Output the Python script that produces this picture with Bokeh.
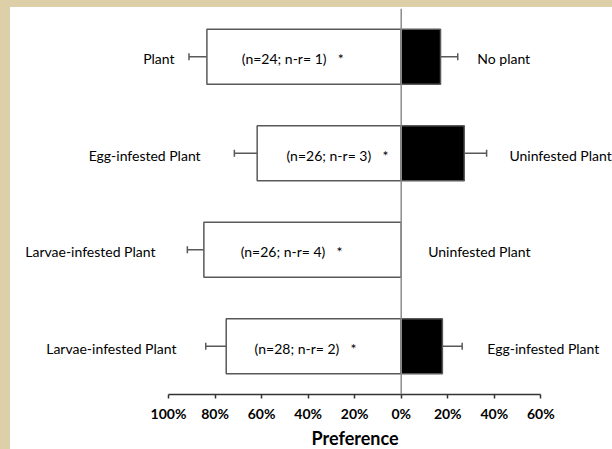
from bokeh.plotting import figure
from bokeh.models import Range1d, Span, FixedTicker, ColumnDataSource, Title
from bokeh.core.properties import value
from bokeh.embed import file_html
from bokeh.resources import INLINE

# ---- data ----
left_labels = ["Plant", "Egg-infested Plant", "Larvae-infested Plant", "Larvae-infested Plant"]
right_labels = ["No plant", "Uninfested Plant", "Uninfested Plant", "Egg-infested Plant"]
left_pct = [83.5, 61.9, 84.8, 75.2]
left_err = [7.7, 9.8, 7.1, 8.8]
right_pct = [16.9, 27.1, 0.0, 17.7]
right_err = [7.4, 9.6, 0.0, 8.5]
n_tested = [24, 26, 26, 28]
n_nonresp = [1, 3, 4, 2]
signif = ["*", "*", "*", "*"]
tick_values = [-100, -80, -60, -40, -20, 0, 20, 40, 60]
tick_labels = ["100%", "80%", "60%", "40%", "20%", "0%", "20%", "40%", "60%"]
x_title = "Preference"

# ---- layout (text placement, in axis units) ----
left_label_end = [-97.4, -86.2, -105.6, -96.6]
right_label_start = [32.7, 46.5, 11.6, 37.0]
note_start = [-68.5, -49.3, -69.0, -63.0]
star_gap = 42.5

FONT = "Lato"
n = len(left_pct)
ys = [n - i - 0.5 for i in range(n)]
bar_h = 0.57
cap = 0.035

src = ColumnDataSource(dict(
    y=ys,
    lneg=[-v for v in left_pct],
    lerr=[-(v + e) for v, e in zip(left_pct, left_err)],
    cap0=[y - cap for y in ys],
    cap1=[y + cap for y in ys],
    llab=left_labels,
    rlab=right_labels,
    llx=left_label_end,
    rlx=right_label_start,
    note=[f"(n={a}; n-r= {b})" for a, b in zip(n_tested, n_nonresp)],
    nx=note_start,
    star=signif,
    sx=[x + star_gap for x in note_start],
))
keep = [i for i in range(n) if right_pct[i] > 0]
err_src = ColumnDataSource(dict(
    y=[ys[i] for i in keep],
    r=[right_pct[i] for i in keep],
    rerr=[right_pct[i] + right_err[i] for i in keep],
    cap0=[ys[i] - cap for i in keep],
    cap1=[ys[i] + cap for i in keep],
))

p = figure(width=602, height=442, x_range=Range1d(-167.9, 90.8), y_range=Range1d(0, 4),
           output_backend="svg", toolbar_location=None, y_axis_location=None,
           min_border_left=0, min_border_right=0, min_border_top=1, min_border_bottom=55,
           outline_line_color=None, background_fill_color="white", border_fill_color="white")
p.xgrid.visible = False
p.ygrid.visible = False

edge = "#595959"
# error bars
p.segment(x0="lneg", y0="y", x1="lerr", y1="y", source=src, line_color=edge, line_width=1.5)
p.segment(x0="lerr", y0="cap0", x1="lerr", y1="cap1", source=src, line_color=edge, line_width=1.5)
p.segment(x0="r", y0="y", x1="rerr", y1="y", source=err_src, line_color=edge, line_width=1.5)
p.segment(x0="rerr", y0="cap0", x1="rerr", y1="cap1", source=err_src, line_color=edge, line_width=1.5)

# bars
p.hbar(y="y", left="lneg", right=0, height=bar_h, source=src,
       fill_color="white", line_color=edge, line_width=1.5)
p.hbar(y="y", left=0, right="r", height=bar_h, source=err_src,
       fill_color="black", line_color=edge, line_width=1.5)

p.add_layout(Span(location=0, dimension="height", line_color="#8c8c8c", line_width=1.5))

# texts
txt = dict(source=src, text_baseline="middle", text_font=value(FONT),
           text_font_size="14px", text_color="black", y_offset=2)
p.text(x="llx", y="y", text="llab", text_align="right", **txt)
p.text(x="rlx", y="y", text="rlab", text_align="left", **txt)
p.text(x="nx", y="y", text="note", text_align="left", **txt)
p.text(x="sx", y="y", text="star", text_align="center", **txt)

# axis
ax = p.xaxis[0]
ax.ticker = FixedTicker(ticks=tick_values)
ax.major_label_overrides = {t: l for t, l in zip(tick_values, tick_labels)}
ax.bounds = (tick_values[0], tick_values[-1])
ax.minor_tick_line_color = None
ax.major_tick_in = 0
ax.major_tick_out = 4
ax.axis_line_color = "#333333"
ax.axis_line_width = 1.5
ax.major_tick_line_color = "#333333"
ax.major_tick_line_width = 1.5
ax.major_label_text_font = FONT
ax.major_label_text_font_style = "bold"
ax.major_label_text_font_size = "14px"
ax.major_label_text_color = "black"
ax.major_label_standoff = 6

# axis title, placed under the centre of the bounded axis
p.add_layout(Title(text=x_title, align="left", offset=301, standoff=0,
                   text_font=FONT, text_font_style="bold", text_font_size="18px",
                   text_color="black"), "below")

html = file_html(p, INLINE, title="Preference")
css = ("<style>html,body{margin:0;background:#ffffff;}"
       "body{padding:7px 0 0 10px;box-sizing:border-box;overflow:hidden;"
       "background:linear-gradient(to right,#ddd0a8 10px,transparent 10px),"
       "linear-gradient(to bottom,#ddd0a8 7px,#ffffff 7px);}</style>")
html = html.replace("</head>", css + "</head>", 1)
open("out.html", "w").write(html)
